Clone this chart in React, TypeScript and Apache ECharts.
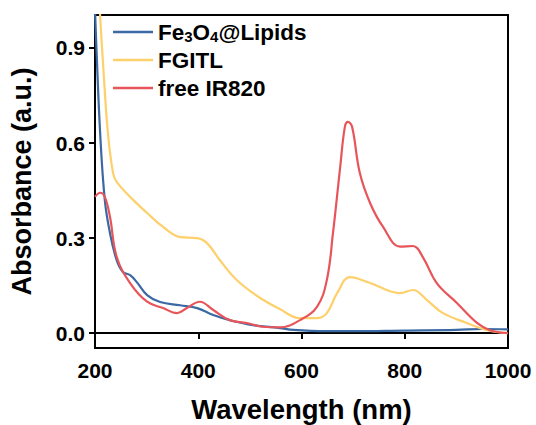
import React, { useEffect, useRef } from "react";
import * as echarts from "echarts";

const seriesNames = ["Fe3O4@Lipids", "FGITL", "free IR820"];

const feX = [200, 203, 210, 219, 229, 242, 254, 268, 281, 301, 326, 365, 398, 429, 461, 506, 558, 584, 649, 700, 800, 900, 950, 1000];
const feY = [1.02, 0.89, 0.63, 0.42, 0.316, 0.23, 0.193, 0.183, 0.161, 0.12, 0.098, 0.088, 0.079, 0.057, 0.041, 0.025, 0.016, 0.01, 0.006, 0.006, 0.008, 0.01, 0.013, 0.012];

const fgX = [207, 210, 216, 225, 235, 242, 268, 301, 332, 365, 398, 417, 442, 475, 517, 558, 597, 630, 649, 669, 694, 733, 791, 816, 843, 874, 920, 959, 1000];
const fgY = [1.1, 1.0, 0.84, 0.632, 0.505, 0.477, 0.43, 0.379, 0.335, 0.303, 0.3, 0.284, 0.23, 0.167, 0.114, 0.076, 0.047, 0.047, 0.063, 0.126, 0.177, 0.158, 0.126, 0.136, 0.104, 0.063, 0.032, 0.009, 0.0];

const irX = [200, 210, 219, 229, 242, 268, 301, 332, 359, 378, 403, 429, 461, 494, 525, 558, 597, 630, 649, 661, 675, 684, 690, 698, 713, 733, 758, 791, 816, 835, 862, 901, 940, 965, 1000];
const irY = [0.43, 0.443, 0.43, 0.367, 0.241, 0.158, 0.099, 0.079, 0.063, 0.079, 0.099, 0.073, 0.041, 0.032, 0.02, 0.018, 0.041, 0.083, 0.167, 0.316, 0.525, 0.651, 0.667, 0.651, 0.505, 0.41, 0.335, 0.273, 0.275, 0.24, 0.158, 0.095, 0.032, 0.009, 0.0];

const yTicks = [0, 0.3, 0.6, 0.9];
const colors = ["#3a69a3", "#fdd06c", "#e7555a"];

const zip = (xs: number[], ys: number[]) => xs.map((x, i) => [x, ys[i]]);

export default function App() {
  const ref = useRef<HTMLDivElement>(null);
  useEffect(() => {
    document.body.style.margin = "0";
    const chart = echarts.init(ref.current!, null, { renderer: "svg" });
    const font = "'Liberation Sans', Arial, sans-serif";
    const data = [zip(feX, feY), zip(fgX, fgY), zip(irX, irY)];
    chart.setOption({
      animation: false,
      grid: {
        left: 95, right: 28, top: 15, bottom: 77,
        containLabel: false, outerBoundsMode: "none",
        show: true, borderColor: "#000", borderWidth: 2,
      },
      legend: {
        orient: "vertical",
        left: 108,
        top: 15,
        itemWidth: 40,
        itemHeight: 2.5,
        itemGap: 4,
        icon: "rect",
        data: seriesNames,
        formatter: (n: string) => (n === "Fe3O4@Lipids" ? "Fe{s|3}O{s|4}@Lipids" : n),
        textStyle: {
          fontFamily: font,
          fontWeight: "bold",
          fontSize: 22.5,
          lineHeight: 24,
          color: "#000",
          rich: {
            s: { fontFamily: font, fontSize: 15, fontWeight: "bold", color: "#000", verticalAlign: "bottom", padding: [6, 0, 0, 0] },
          },
        },
      },
      xAxis: {
        type: "value",
        min: 200,
        max: 1000,
        interval: 200,
        name: "Wavelength (nm)",
        nameLocation: "middle",
        nameGap: 47,
        nameTextStyle: { fontFamily: font, fontWeight: "bold", fontSize: 27.5, color: "#000" },
        axisLine: { lineStyle: { color: "#000", width: 2 } },
        axisTick: { inside: false, length: 6, lineStyle: { color: "#000", width: 2 } },
        axisLabel: { fontFamily: font, fontWeight: "bold", fontSize: 21, color: "#000", margin: 12, formatter: (v: number) => String(v) },
        splitLine: { show: false },
      },
      yAxis: {
        type: "value",
        min: -0.047,
        max: 1.004,
        name: "Absorbance (a.u.)",
        nameLocation: "middle",
        nameGap: 60,
        nameTextStyle: { fontFamily: font, fontWeight: "bold", fontSize: 27, color: "#000" },
        axisLine: { lineStyle: { color: "#000", width: 2 } },
        axisTick: { inside: false, length: 6, customValues: yTicks, lineStyle: { color: "#000", width: 2 } },
        axisLabel: {
          fontFamily: font,
          fontWeight: "bold",
          fontSize: 21,
          color: "#000",
          margin: 10,
          customValues: yTicks,
          formatter: (v: number) => v.toFixed(1),
        },
        splitLine: { show: false },
      },
      series: seriesNames.map((n, i) => ({
        name: n,
        type: "line",
        data: data[i],
        smooth: 0.4,
        symbol: "none",
        clip: true,
        lineStyle: { color: colors[i], width: 2.2 },
        itemStyle: { color: colors[i] },
        z: i === 2 ? 3 : 2,
      })),
    });
    return () => chart.dispose();
  }, []);
  return <div ref={ref} style={{ width: 536, height: 425 }} />;
}
